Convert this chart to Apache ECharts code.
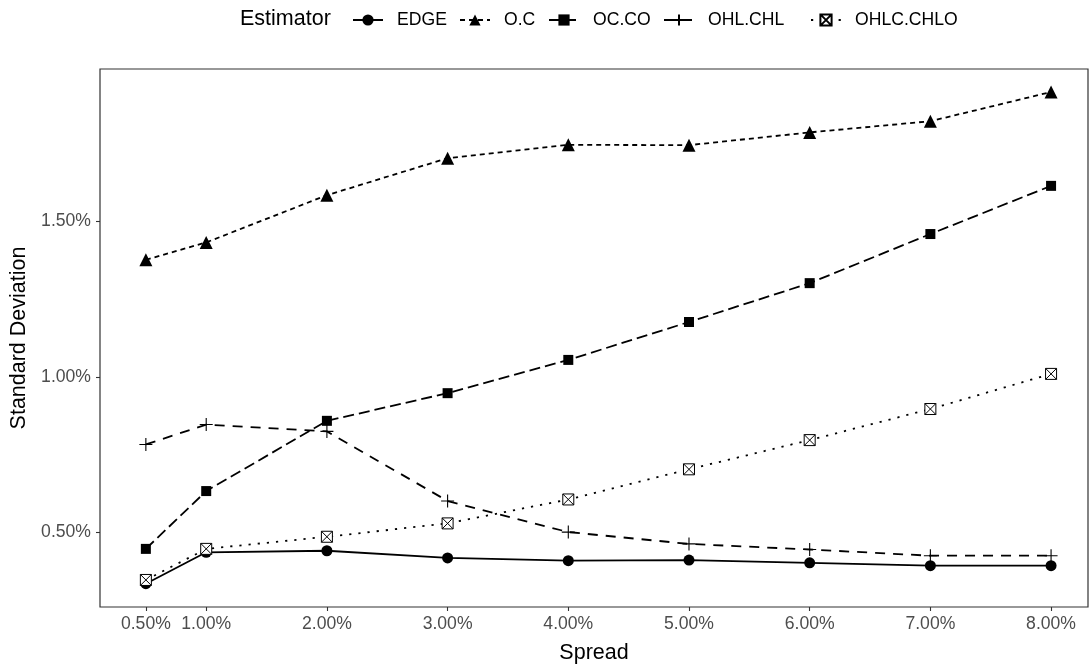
<!DOCTYPE html>
<html>
<head>
<meta charset="utf-8">
<script src="https://cdn.jsdelivr.net/npm/echarts@6/dist/echarts.min.js"></script>
<style>
html,body{margin:0;padding:0;background:#fff;}
#chart{width:1091px;height:669px;}
</style>
</head>
<body>
<div id="chart"></div>
<script>
// Data (values in %)
const spread = [0.5, 1, 2, 3, 4, 5, 6, 7, 8];
const xTicks = [0.5, 1, 2, 3, 4, 5, 6, 7, 8];
const yTicks = [0.5, 1.0, 1.5];
const estimators = ['EDGE', 'O.C', 'OC.CO', 'OHL.CHL', 'OHLC.CHLO'];
const edge     = [0.335, 0.436, 0.441, 0.418, 0.409, 0.411, 0.402, 0.393, 0.393];
const oc       = [1.377, 1.433, 1.585, 1.704, 1.747, 1.746, 1.787, 1.823, 1.917];
const occo     = [0.447, 0.633, 0.859, 0.948, 1.055, 1.177, 1.302, 1.460, 1.615];
const ohlchl   = [0.783, 0.847, 0.825, 0.601, 0.501, 0.463, 0.445, 0.425, 0.425];
const ohlcchlo = [0.347, 0.447, 0.486, 0.529, 0.606, 0.703, 0.797, 0.897, 1.010];

const values = [edge, oc, occo, ohlchl, ohlcchlo];
const FONT = 'Liberation Sans, Arial, sans-serif';

const styles = [
  {symbol: 'circle', size: 11, dash: 'solid', fill: '#000', bw: 0},
  {symbol: 'triangle', size: 13, dash: [5, 4], fill: '#000', bw: 0},
  {symbol: 'rect', size: 10, dash: [11, 5], fill: '#000', bw: 0},
  {symbol: 'path://M0,5 L10,5 M5,0 L5,10', size: 13, dash: [10, 8], fill: '#000', bw: 1.1},
  {symbol: 'path://M0,0 L10,0 L10,10 L0,10 Z M0,0 L10,10 M10,0 L0,10', size: 11, dash: [2.2, 7], fill: '#fff', bw: 1}
];

const series = estimators.map((name, i) => ({
  name: name,
  type: 'line',
  data: spread.map((x, j) => [x, values[i][j]]),
  symbol: styles[i].symbol,
  symbolSize: styles[i].size,
  showAllSymbol: true,
  lineStyle: {color: '#000', width: 1.8, type: styles[i].dash},
  itemStyle: {color: styles[i].fill, borderColor: '#000', borderWidth: styles[i].bw},
  emphasis: {disabled: true},
  z: 2 + i
}));

const legendLefts = [352, 459, 548, 663, 810];
const legends = estimators.map((name, i) => ({
  data: [name],
  left: legendLefts[i],
  top: 11,
  padding: 0,
  itemWidth: 30,
  itemHeight: 14,
  selectedMode: false,
  textStyle: {fontFamily: FONT, fontSize: 17.6, color: '#000', padding: [0, 0, 0, 9]}
}));

const chart = echarts.init(document.getElementById('chart'));
chart.setOption({
  animation: false,
  backgroundColor: '#fff',
  legend: legends,
  graphic: [{
    type: 'text', left: 240, top: 8,
    style: {text: 'Estimator', fontFamily: FONT, fontSize: 21.5, fill: '#000'}
  }],
  grid: {left: 100, right: 3, top: 69, bottom: 59, show: true, borderColor: '#333', borderWidth: 1.2, containLabel: false},
  xAxis: {
    type: 'value', min: 0.12, max: 8.306,
    name: 'Spread', nameLocation: 'middle', nameGap: 35,
    nameTextStyle: {fontFamily: FONT, fontSize: 21.5, color: '#000'},
    axisLine: {show: false},
    axisTick: {show: true, length: 4, lineStyle: {color: '#333', width: 1.1}, customValues: xTicks},
    axisLabel: {customValues: xTicks, formatter: v => v.toFixed(2) + '%', margin: 8, fontFamily: FONT, fontSize: 17.6, color: '#4D4D4D'},
    splitLine: {show: false}
  },
  yAxis: {
    type: 'value', min: 0.26, max: 1.991,
    name: 'Standard Deviation', nameLocation: 'middle', nameGap: 56,
    nameTextStyle: {fontFamily: FONT, fontSize: 21.5, color: '#000'},
    axisLine: {show: false},
    axisTick: {show: true, length: 4, lineStyle: {color: '#333', width: 1.1}, customValues: yTicks},
    axisLabel: {customValues: yTicks, formatter: v => v.toFixed(2) + '%', margin: 9, fontFamily: FONT, fontSize: 17.6, color: '#4D4D4D'},
    splitLine: {show: false}
  },
  series: series
});
</script>
</body>
</html>
